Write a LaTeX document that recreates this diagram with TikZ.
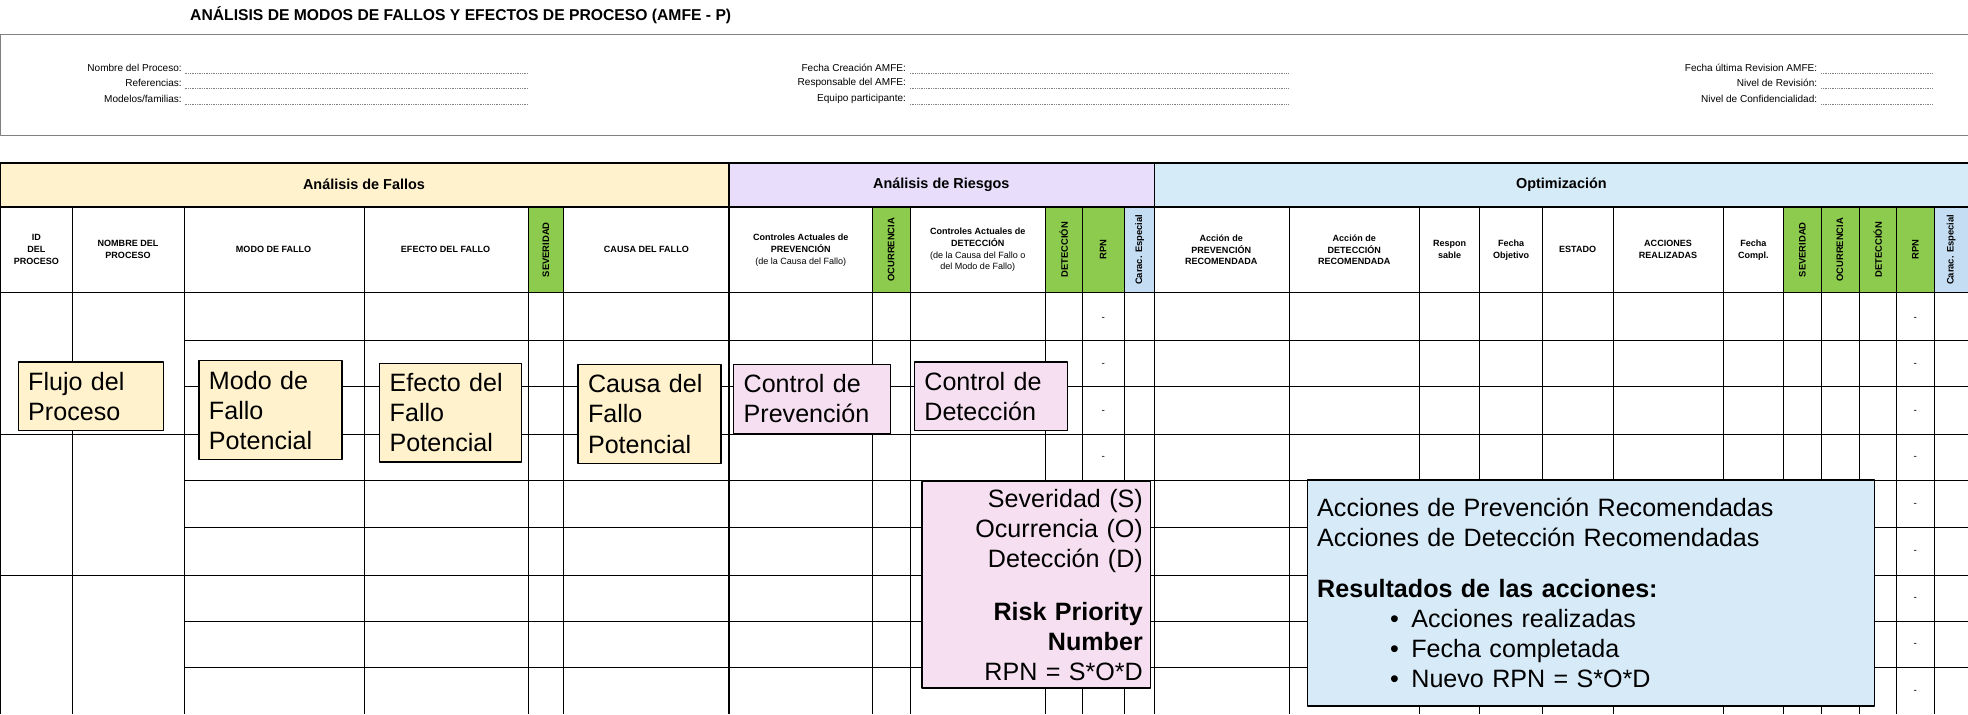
\documentclass[tikz,border=0pt]{standalone}
\usepackage{fontspec}
\setmainfont{Liberation Sans}
\usetikzlibrary{positioning}
\definecolor{fallos}{RGB}{255,242,204}
\definecolor{riesgos}{RGB}{232,222,252}
\definecolor{optim}{RGB}{214,235,248}
\definecolor{verde}{RGB}{140,203,78}
\definecolor{carac}{RGB}{197,221,243}
\definecolor{rosa}{RGB}{246,223,240}
\definecolor{azul}{RGB}{214,234,248}
\begin{document}
\begin{tikzpicture}[
        x=1pt, y=-1pt,
        line join=round,
        grid/.style = {black, line width=0.5pt},
        thickgrid/.style = {black, line width=1.2pt},
        hdr/.style = {font=\fontsize{7.2}{9.5}\selectfont\bfseries, align=center},
        vert/.style = {font=\fontsize{7.5}{9}\selectfont\bfseries, rotate=90},
        lbl/.style = {font=\fontsize{8}{9}\selectfont, anchor=east, inner sep=1pt},
        box/.style = {draw, line width=1pt, anchor=north west, align=left, inner sep=8pt,
                      font=\fontsize{20}{24}\selectfont},
        band/.style = {font=\fontsize{11.5}{13}\selectfont\bfseries}
    ]

    \useasboundingbox (0,0) rectangle (1568,569);

    % title and form
    \node[anchor=west, font=\fontsize{12.5}{14}\selectfont\bfseries] (titulo) at (148,12)
        {ANÁLISIS DE MODOS DE FALLOS Y EFECTOS DE PROCESO (AMFE - P)};
    \draw[grid, gray] (0,27) rectangle (1580,108);

    \foreach \y/\a/\b/\c in {54/{Nombre del Proceso:}/{Fecha Creación AMFE:}/{Fecha última Revision AMFE:},
                             66/{Referencias:}/{Responsable del AMFE:}/{Nivel de Revisión:},
                             79/{Modelos\slash familias:}/{Equipo participante:}/{Nivel de Confidencialidad:}} {
        \node[lbl] at (146,\y) {\a};
        \node[lbl] at (723,\y) {\b};
        \node[lbl] at (1449,\y) {\c};
        \draw[gray, densely dotted] (147,\y+4) -- (421,\y+4);
        \draw[gray, densely dotted] (725,\y+4) -- (1027,\y+4);
        \draw[gray, densely dotted] (1451,\y+4) -- (1540,\y+4);
    }

    % bands
    \fill[fallos] (0,130) rectangle (581,165);
    \fill[riesgos] (581,130) rectangle (920,165);
    \fill[optim] (920,130) rectangle (1568,165);
    \node[band] (fallos) at (290,147) {Análisis de Fallos};
    \node[band] (riesgos) at (750,147) {Análisis de Riesgos};
    \node[band] (optim) at (1244,147) {Optimización};

    % coloured header cells
    \foreach \a/\b in {421/449, 695/725, 833/862, 862/896, 1421/1451, 1451/1481, 1481/1511, 1511/1541}
        \fill[verde] (\a,165) rectangle (\b,233);
    \foreach \a/\b in {896/920, 1541/1568}
        \fill[carac] (\a,165) rectangle (\b,233);

    % row lines
    \foreach \y in {271, 308, 346, 383, 420, 458, 495, 532}
        \draw[grid] (147,\y) -- (1568,\y);
    \foreach \y in {346, 458}
        \draw[grid] (0,\y) -- (147,\y);

    % column lines
    \foreach \x in {58, 147, 290, 421, 449, 695, 725, 833, 862, 896, 1027, 1131, 1179, 1229, 1285, 1373, 1421, 1451, 1481, 1511, 1541}
        \draw[grid] (\x,165) -- (\x,569);
    \foreach \x in {0, 581, 920}
        \draw[thickgrid] (\x,130) -- (\x,569);
    \draw[thickgrid] (0,130) -- (1568,130);
    \draw[thickgrid] (0,165) -- (1568,165);
    \draw[thickgrid] (0,233) -- (1568,233);

    % header texts
    \node[hdr] at (29,199) {ID\\DEL\\PROCESO};
    \node[hdr] at (102,199) {NOMBRE DEL\\PROCESO};
    \node[hdr] at (218,199) {MODO DE FALLO};
    \node[hdr] at (355,199) {EFECTO DEL FALLO};
    \node[hdr] at (515,199) {CAUSA DEL FALLO};
    \node[hdr] at (638,199) {Controles Actuales de\\PREVENCIÓN\\{\mdseries(de la Causa del Fallo)}};
    \node[hdr] at (779,199) {Controles Actuales de\\DETECCIÓN\\{\mdseries(de la Causa del Fallo o}\\{\mdseries del Modo de Fallo)}};
    \node[hdr] at (973,199) {Acción de\\PREVENCIÓN\\RECOMENDADA};
    \node[hdr] at (1079,199) {Acción de\\DETECCIÓN\\RECOMENDADA};
    \node[hdr] at (1155,199) {Respon\\sable};
    \node[hdr] at (1204,199) {Fecha\\Objetivo};
    \node[hdr] at (1257,199) {ESTADO};
    \node[hdr] at (1329,199) {ACCIONES\\REALIZADAS};
    \node[hdr] at (1397,199) {Fecha\\Compl.};
    \foreach \x/\t in {435/SEVERIDAD, 710/OCURRENCIA, 847.5/DETECCIÓN, 879/RPN, 908/Carac. Especial,
                       1436/SEVERIDAD, 1466/OCURRENCIA, 1496/DETECCIÓN, 1526/RPN, 1554.5/Carac. Especial}
        \node[vert] at (\x,199) {\t};

    % dashes
    \foreach \y in {254, 291, 328, 365}
        \node[font=\fontsize{8}{9}\selectfont] at (879,\y) {-};
    \foreach \y in {254, 291, 328, 365, 402, 440, 477, 514, 551}
        \node[font=\fontsize{8}{9}\selectfont] at (1526,\y) {-};

    % annotation boxes
    \node[box, fill=fallos, text width=100pt] (flujo) at (14,288) {Flujo del\\Proceso};
    \node[box, fill=fallos, text width=98pt] (modo) at (158,287) {Modo de\\Fallo\\Potencial};
    \node[box, fill=fallos, text width=97pt] (efecto) at (302,289) {Efecto del\\Fallo\\Potencial};
    \node[box, fill=fallos, text width=98pt] (causa) at (460,290) {Causa del\\Fallo\\Potencial};
    \node[box, fill=rosa, text width=109pt] (prev) at (584,290) {Control de\\Prevención};
    \node[box, fill=rosa, text width=106pt] (det) at (728,288) {Control de\\Detección};
    \node[box, fill=rosa, text width=170pt, align=right, inner sep=6pt] (rpn) at (734,383)
        {Severidad (S)\\Ocurrencia (O)\\Detección (D)\\[18pt]\textbf{Risk Priority}\\\textbf{Number}\\RPN = S*O*D};
    \node[box, fill=azul, text width=436pt, inner sep=8pt, minimum height=180pt] (accion) at (1041,382)
        {Acciones de Prevención Recomendadas\\Acciones de Detección Recomendadas\\[16pt]
         \textbf{Resultados de las acciones:}\\
         \hspace*{58pt}•\hspace{10pt}Acciones realizadas\\
         \hspace*{58pt}•\hspace{10pt}Fecha completada\\
         \hspace*{58pt}•\hspace{10pt}Nuevo RPN = S*O*D};

\end{tikzpicture}
\end{document}
